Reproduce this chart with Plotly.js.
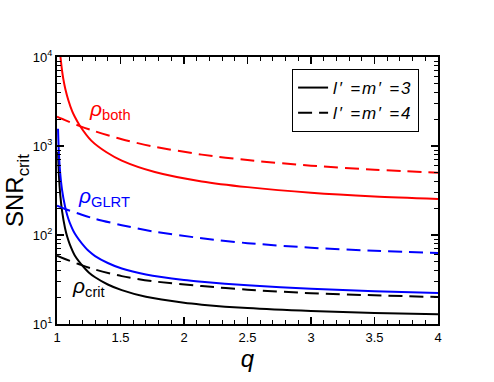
<!DOCTYPE html>
<html>
<head>
<meta charset="utf-8">
<script src="https://cdn.plot.ly/plotly-3.0.1.min.js"></script>
<style>html,body{margin:0;padding:0;background:#fff;}#chart{width:494px;height:382px;}
svg text.legendtext{letter-spacing:1.8px;}</style>
</head>
<body>
<div id="chart"></div>
<script>
// ---- data ----
var qBothSolid = [1.008, 1.015, 1.02, 1.025, 1.03, 1.04, 1.05, 1.066, 1.09, 1.12, 1.14, 1.18, 1.27, 1.39, 1.51, 1.77, 2.14, 2.5, 3.0, 3.5, 4.0];
var bothSolid  = [34000, 18000, 13500, 10900, 9200, 7000, 5650, 4350, 3250, 2450, 2130, 1690, 1150, 850, 685, 510, 400, 345, 298, 271, 254];

var qDashed    = [1.0, 1.063, 1.18, 1.3, 1.51, 1.75, 2.14, 2.5, 3.0, 3.5, 4.0];
var bothDashed = [2133, 1950, 1675, 1460, 1191, 993, 800, 695, 601, 542, 501];
var glrtDashed = [213, 196, 172, 152, 129, 110, 92, 81, 72, 66.5, 62.8];
var critDashed = [58.5, 53.7, 46.6, 40.9, 34.5, 30.3, 26.7, 24.3, 22.2, 21.0, 20.1];

var qSolid     = [1.008, 1.015, 1.025, 1.04, 1.063, 1.08, 1.1, 1.14, 1.22, 1.25, 1.3, 1.4, 1.51, 1.7, 2.0, 2.14, 2.5, 3.0, 3.5, 4.0];
var glrtSolid  = [1560, 820, 500, 320, 210, 168, 138, 104, 73, 66, 58, 48.5, 42, 36, 31.2, 29.8, 27.2, 24.9, 23.4, 22.3];
var critSolid  = [860, 470, 290, 185, 120, 96, 79, 59, 42, 38, 33.5, 27.8, 24.0, 20.2, 17.3, 16.5, 15.1, 14.0, 13.3, 12.9];

var seriesNames = ["l\u2032\u00a0=m\u2032\u00a0=3", "l\u2032\u00a0=m\u2032\u00a0=4"];
var xTickVals = [1, 1.5, 2, 2.5, 3, 3.5, 4];
var xTickText = ["1", "1.5", "2", "2.5", "3", "3.5", "4"];
var yTickVals = [10, 100, 1000, 10000];
var yTickText = ["10<sup>1</sup>", "10<sup>2</sup>", "10<sup>3</sup>", "10<sup>4</sup>"];

// ---- build chart ----
var dashPat = "14px,7px";
var W = 2;
function tr(x, y, color, dash, name, show) {
  return {x: x, y: y, type: "scatter", mode: "lines", name: name, showlegend: show,
          line: {color: color, width: W, dash: dash, shape: "spline", smoothing: 0.8},
          hoverinfo: "skip"};
}
var data = [
  tr(qSolid, critSolid, "#000000", "solid", "<i>" + seriesNames[0] + "</i>", true),
  tr(qDashed, critDashed, "#000000", dashPat, "<i>" + seriesNames[1] + "</i>", true),
  tr(qBothSolid, bothSolid, "#ff0000", "solid", "", false),
  tr(qDashed, bothDashed, "#ff0000", dashPat, "", false),
  tr(qSolid, glrtSolid, "#0000ff", "solid", "", false),
  tr(qDashed, glrtDashed, "#0000ff", dashPat, "", false)
];

var minorY = [];
for (var d = 10; d < 10000; d *= 10) for (var k = 2; k <= 9; k++) minorY.push(d * k);

var font = "Liberation Sans, Arial, Helvetica, sans-serif";
var layout = {
  width: 494, height: 382,
  margin: {l: 57, r: 56, t: 57, b: 58},
  paper_bgcolor: "#fff", plot_bgcolor: "#fff",
  font: {family: font, color: "#000", size: 13},
  showlegend: true,
  legend: {x: 0.617, y: 0.955, xanchor: "left", yanchor: "top",
           bordercolor: "#000", borderwidth: 1, bgcolor: "#fff",
           font: {family: font, size: 17, color: "#000"},
           tracegroupgap: 0, itemwidth: 30},
  xaxis: {
    range: [1, 4], tickmode: "array", tickvals: xTickVals, ticktext: xTickText,
    ticks: "inside", ticklen: 7, tickwidth: 1.2, tickcolor: "#000",
    minor: {dtick: 0.1, ticks: "inside", ticklen: 4, tickwidth: 1, tickcolor: "#000"},
    showline: true, linecolor: "#000", linewidth: 2, mirror: "allticks",
    showgrid: false, zeroline: false,
    tickfont: {size: 13},
    title: {text: "<i>q</i>", font: {size: 24}, standoff: 0}
  },
  yaxis: {
    type: "log", range: [1, 4], tickmode: "array", tickvals: yTickVals, ticktext: yTickText,
    ticks: "inside", ticklen: 7, tickwidth: 1.2, tickcolor: "#000",
    minor: {tickmode: "array", tickvals: minorY, ticks: "inside", ticklen: 4, tickwidth: 1, tickcolor: "#000"},
    showline: true, linecolor: "#000", linewidth: 2, mirror: "allticks",
    showgrid: false, zeroline: false,
    tickfont: {size: 13},
    title: {text: "SNR<sub>crit</sub>", font: {size: 24}, standoff: 2}
  },
  annotations: [
    {xref: "x", yref: "y", x: 1.236, y: 3.40, xanchor: "left", yanchor: "middle", showarrow: false,
     text: "<i>ρ</i><sub>both</sub>", font: {size: 21, color: "#ff0000"}},
    {xref: "x", yref: "y", x: 1.15, y: 2.43, xanchor: "left", yanchor: "middle", showarrow: false,
     text: "<i>ρ</i><sub>GLRT</sub>", font: {size: 21, color: "#0000ff"}},
    {xref: "x", yref: "y", x: 1.10, y: 1.42, xanchor: "left", yanchor: "middle", showarrow: false,
     text: "<i>ρ</i><sub>crit</sub>", font: {size: 21, color: "#000000"}}
  ]
};
Plotly.newPlot("chart", data, layout, {displayModeBar: false, staticPlot: true});
</script>
</body>
</html>
